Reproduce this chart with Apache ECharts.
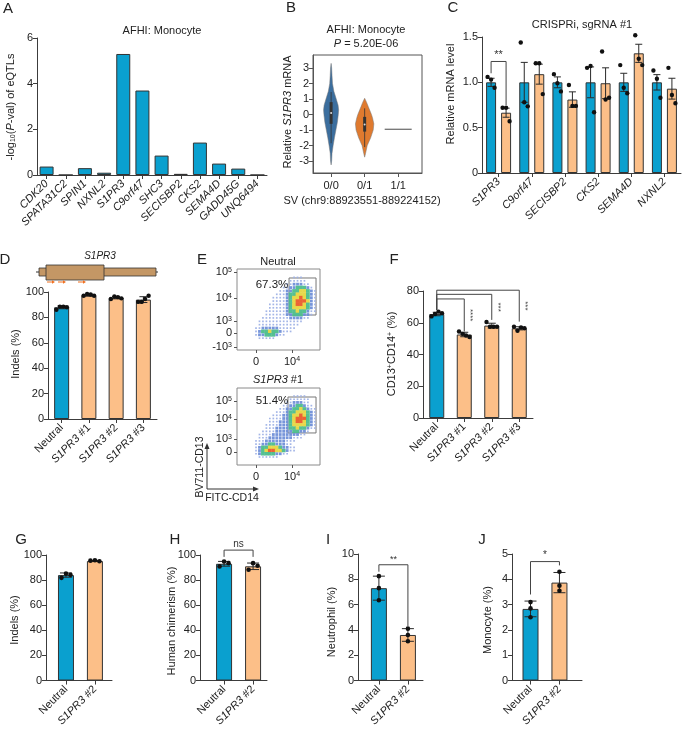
<!DOCTYPE html>
<html><head><meta charset="utf-8"><title>S1PR3 figure</title>
<script src="https://cdn.jsdelivr.net/npm/echarts@6.0.0/dist/echarts.min.js"></script>
<style>html,body{margin:0;padding:0;background:#fff;}#chart{width:685px;height:729px;}</style>
</head><body><div id="chart"></div>
<script>
// ---------------- DATA ----------------
// Panel A
const aGenes = ['CDK20','SPATA31C2','SPIN1','NXNL2','S1PR3','C9orf47','SHC3','SECISBP2','CKS2','SEMA4D','GADD45G','UNQ6494'];
const aLogP = [0.37,0,0.3,0.1,5.3,3.7,0.85,0.05,1.42,0.5,0.28,0];
// Panel B  (violin profiles: [value, relative density])
const bGenotypes = ['0/0','0/1','1/1'];
const bYTicks = [-3,-2,-1,0,1,2,3];
const bViolin00 = [[-3.25,0],[-3.0,0.06],[-2.5,0.1],[-2.0,0.22],[-1.5,0.36],[-1.0,0.52],[-0.5,0.68],[0,0.78],[0.3,0.82],[0.6,0.76],[1.0,0.56],[1.5,0.3],[2.0,0.15],[2.5,0.1],[3.0,0.06],[3.3,0]];
const bViolin01 = [[-2.75,0],[-2.5,0.1],[-2.0,0.28],[-1.5,0.65],[-1.0,0.93],[-0.6,1.0],[-0.2,0.85],[0,0.74],[0.5,0.4],[0.8,0.2],[1.05,0]];
const bBoxes = [[-1.85,-0.6,0.1,0.8,1.45],[-2.1,-1.1,-0.65,-0.15,0.4]];
const bHomAlt = -0.95;
// Panel C
const cGenes = ['S1PR3','C9orf47','SECISBP2','CKS2','SEMA4D','NXNL2'];
const cNeutralMean = [1,1,1,1,1,1];
const cNeutralSem = [0.045,0.22,0.06,0.17,0.1,0.085];
const cKOMean = [0.665,1.09,0.81,0.99,1.32,0.93];
const cKOSem = [0.05,0.11,0.085,0.17,0.1,0.115];
const cNeutralPts = [[1.06,1.03,0.94],[1.44,0.78,0.735],[1.09,0.99,0.9],[1.16,1.18,0.67],[1.19,0.94,0.88],[1.13,1.04,0.83]];
const cKOPts = [[0.72,0.72,0.57],[1.21,1.21,0.87],[0.97,0.74,0.74],[1.34,0.81,0.83],[1.52,1.26,1.19],[1.16,0.86,0.77]];
const cBrackets = [[0,0,1.23,1.1,0.75]];
const cBracketLabels = ['**'];
// Panel D
const dGroups = ['Neutral','S1PR3 #1','S1PR3 #2','S1PR3 #3'];
const dMeans = [88,97.5,95.5,94];
const dSd = [1.2,0.8,0.9,2.3];
const dPts = [[86,88.5,88.5,88],[97,98.5,98,97],[94.5,96.5,96,95],[92.2,92.2,94.5,97]];
// Panel E (flow density grids, 24x24, level 0-5)
const eXTickPos = [22.9,66.3];
const eXTickLabels = ['0','10{sup|4}'];
const eYTickLabels = ['10{sup|5}','10{sup|4}','10{sup|3}','0','-10{sup|3}'];
const eTopYTickPos = [96.3,64.2,35.8,21,3.7];
const eBotYTickPos = [83.1,59.7,33.8,16.9,3.9];
const eTopGate = [62.7,95.2,43.2,88.9];
const eBotGate = [61.4,95.2,41.6,88.3];
const eTopPct = '67.3%';
const eBotPct = '51.4%';
const eTopDensity = [
"000000000000000000000000",
"000000000000000000000000",
"000000000000000011100000",
"000000000000000111110000",
"000000000000001122211000",
"000000000000011223332100",
"000000000000112233443210",
"000000000001112334443210",
"000000000011112344543210",
"000000000011112345554210",
"000000000111112345543210",
"000000000111112344443210",
"000000001111112334332110",
"000000001111112233322100",
"000000011111111222211000",
"000000111111111111100000",
"000000111111111111000000",
"000001122222111110000000",
"000001233433211100000000",
"000001223332110000000000",
"000000111110000000000000",
"000000000000000000000000",
"000000000000000000000000",
"000000000000000000000000"];
const eBotDensity = [
"000000000000000000000000",
"000000000000000000000000",
"000000000000000011110000",
"000000000000000111111000",
"000000000000001122211000",
"000000000000011223321100",
"000000000000112233432110",
"000000000001112334443210",
"000000000011122344543210",
"000000000111122345553210",
"000000000111222345543210",
"000000001111222344443210",
"000000001112222334332110",
"000000011112222233221000",
"000000111122222222110000",
"000000111222222211100000",
"000001112222221110000000",
"000001122332221100000000",
"000001233444322110000000",
"000001234554432110000000",
"000001233332211000000000",
"000000111111000000000000",
"000000000000000000000000",
"000000000000000000000000"];
// Panel F
const fGroups = ['Neutral','S1PR3 #1','S1PR3 #2','S1PR3 #3'];
const fMeans = [65.5,52.6,58.2,56.5];
const fSd = [1.1,1.4,1.5,1.0];
const fPts = [[64,65.5,67,66],[54.5,53,52,51],[60.5,57.5,57.5,57.5],[57.5,55,57,56.5]];
const fBrackets = [[0,3,80.5,68,60.7],[0,2,77.9,68,61.8],[0,1,75,68,54.5]];
const fBracketLabels = ['***','***','****'];
// Panels G-J
const ghijGroups = ['Neutral','S1PR3 #2'];
const gMeans = [84,95.2], gSd = [1.7,0.4], gPts = [[81.8,85.2,84.2],[95.5,95.8,95]];
const hMeans = [93,91], hSd = [1.9,2.6], hPts = [[90.9,94.8,93.5],[88.3,93.5,91.4]];
const hBrackets = [[0,1,103.9,98.5,98.5]], hBracketLabels = ['ns'];
const iMeans = [7.3,3.6], iSd = [0.95,0.5], iPts = [[8.25,7.3,6.35],[4.1,3.6,3.1]];
const iBrackets = [[0,1,9.15,8.6,4.3]], iBracketLabels = ['**'];
const jMeans = [2.83,3.87], jSd = [0.31,0.4], jPts = [[3.1,2.85,2.5],[4.3,3.75,3.55]];
const jBrackets = [[0,1,4.7,3.4,4.55]], jBracketLabels = ['*'];

// ---------------- STYLE / HELPERS ----------------
const FONT = '"Liberation Sans", Arial, Helvetica, sans-serif';
const AXC = '#3c3c3c', LBL = '#222';
const BLUE = '#0aa0cf', ORANGE = '#fcbf88', EDGE = '#333';
const FLOW_COLORS = [null,'#9fb2e6','#6f8fd8','#4cbd8c','#e6d640','#ea5a2a'];
const FLOW_SIZES = [0,1.7,2.8,3.8,3.8,3.8];
const ital = {fontStyle:'italic', fontFamily:FONT, fontSize:11, color:LBL};
const norm = {fontFamily:FONT, fontSize:11, color:LBL};
const supS = {fontFamily:FONT, fontSize:7, color:LBL, verticalAlign:'top', padding:[0,0,4,0]};
function geneFmt(v){ return v.indexOf('S1PR3')===0 ? '{i|S1PR3}{n|'+v.slice(5)+'}' : '{n|'+v+'}'; }

function catX(gi, data, allItalic){
  return {type:'category', gridIndex:gi, data, boundaryGap:true,
    axisLine:{show:true, onZero:false, lineStyle:{color:AXC,width:1}},
    axisTick:{show:true, alignWithLabel:true, interval:0, length:4, lineStyle:{color:AXC}},
    axisLabel:{interval:0, rotate:45, margin:7, formatter: allItalic ? (v=>'{i|'+v+'}') : geneFmt, rich:{i:ital,n:norm}},
    splitLine:{show:false}};
}
function valX(gi, min, max, labels){
  const pos = labels.map((_,i)=>i);
  return {type:'value', gridIndex:gi, min, max,
    axisLine:{show:true, onZero:false, lineStyle:{color:AXC}},
    axisTick:{show:true, length:4, customValues:pos, lineStyle:{color:AXC}},
    axisLabel:{rotate:45, margin:7, customValues:pos, formatter:v=>geneFmt(labels[Math.round(v)]), rich:{i:ital,n:norm}},
    splitLine:{show:false}};
}
function valY(gi, min, max, interval, fmt){
  return {type:'value', gridIndex:gi, min, max, interval,
    axisLine:{show:true, onZero:false, lineStyle:{color:AXC}},
    axisTick:{show:true, length:4, lineStyle:{color:AXC}},
    axisLabel:{fontFamily:FONT, fontSize:11, color:LBL, margin:4, formatter:fmt},
    splitLine:{show:false}};
}
function nearestLabel(pos, labels, v){
  let bi=0; pos.forEach((p,i)=>{ if (Math.abs(p-v)<Math.abs(pos[bi]-v)) bi=i; }); return labels[bi];
}
function flowX(gi){
  return {type:'value', gridIndex:gi, min:0, max:100,
    axisLine:{show:false}, splitLine:{show:false},
    axisTick:{show:true, length:3, customValues:eXTickPos, lineStyle:{color:'#555'}},
    axisLabel:{customValues:eXTickPos, margin:6, fontFamily:FONT, fontSize:11, color:LBL,
      formatter:v=>nearestLabel(eXTickPos,eXTickLabels,v), rich:{sup:supS}}};
}
function flowY(gi, pos){
  return {type:'value', gridIndex:gi, min:0, max:100,
    axisLine:{show:false}, splitLine:{show:false},
    axisTick:{show:true, length:3, customValues:pos, lineStyle:{color:'#555'}},
    axisLabel:{customValues:pos, margin:5, fontFamily:FONT, fontSize:11, color:LBL,
      formatter:v=>nearestLabel(pos,eYTickLabels,v), rich:{sup:supS}}};
}
function barSeries(gi, values, colors, width, valueAxisX){
  return {type:'bar', xAxisIndex:gi, yAxisIndex:gi, barWidth:width, silent:true,
    data: values.map((v,i)=>({value: valueAxisX ? [i,v] : v, itemStyle:{color:colors[i]}})),
    itemStyle:{borderColor:EDGE, borderWidth:1}};
}
function errSeries(gi, means, errs, cap, off){
  return {type:'custom', xAxisIndex:gi, yAxisIndex:gi, clip:false, silent:true, z:4,
    data: means.map((m,i)=>[i, m-errs[i], m+errs[i]]),
    renderItem(params, api){
      const lo = api.coord([api.value(0), api.value(1)]);
      const hi = api.coord([api.value(0), api.value(2)]);
      const x = lo[0] + (off||0);
      const st = {stroke:'#2a2a2a', lineWidth:1};
      return {type:'group', children:[
        {type:'line', shape:{x1:x,y1:lo[1],x2:x,y2:hi[1]}, style:st},
        {type:'line', shape:{x1:x-cap,y1:lo[1],x2:x+cap,y2:lo[1]}, style:st},
        {type:'line', shape:{x1:x-cap,y1:hi[1],x2:x+cap,y2:hi[1]}, style:st}]};
    }};
}
function dotSeries(gi, pts, spread, off, r){
  const data=[];
  pts.forEach((arr,ci)=>arr.forEach((v,j)=>data.push([ci, v, j, arr.length])));
  return {type:'custom', xAxisIndex:gi, yAxisIndex:gi, clip:false, silent:true, z:5, data,
    renderItem(params, api){
      const p = api.coord([api.value(0), api.value(1)]);
      const j = api.value(2), n = api.value(3);
      return {type:'circle', shape:{cx:p[0]+(off||0)+(j-(n-1)/2)*spread, cy:p[1], r:r||2.3}, style:{fill:'#111'}};
    }};
}
function bracketSeries(gi, list, labels, o){
  o = o||{};
  return {type:'custom', xAxisIndex:gi, yAxisIndex:gi, clip:false, silent:true, z:6,
    data: list.map(b=>[b[0], b[2]]),
    renderItem(params, api){
      const b = list[params.dataIndex];
      const t1 = api.coord([b[0], b[2]]), t2 = api.coord([b[1], b[2]]);
      const e1 = api.coord([b[0], b[3]]), e2 = api.coord([b[1], b[4]]);
      const x1 = t1[0]+(o.off1||0), x2 = t2[0]+(o.off2||0);
      const kids = [{type:'polyline', shape:{points:[[x1,e1[1]],[x1,t1[1]],[x2,t1[1]],[x2,e2[1]]]}, style:{stroke:'#444', lineWidth:1, fill:'none'}}];
      const lab = labels[params.dataIndex];
      if (o.vertical) {
        kids.push({type:'text', x:x2+6, y:(t1[1]+e2[1])/2, rotation:-Math.PI/2,
          style:{text:lab, fill:'#444', fontFamily:FONT, fontSize:o.size||8, align:'center', verticalAlign:'middle'}});
      } else {
        kids.push({type:'text', x:(x1+x2)/2, y:t1[1]-1,
          style:{text:lab, fill:'#333', fontFamily:FONT, fontSize:o.size||10, align:'center', verticalAlign:'bottom'}});
      }
      return {type:'group', children:kids};
    }};
}
function flowData(rows){
  const out=[];
  rows.forEach((row,r)=>{
    const s = row.padEnd(24,'0');
    for (let c=0;c<24;c++){ const lv = +s[c]; if (lv>0) out.push([(c+0.5)*100/24, 100-(r+0.5)*100/rows.length, lv]); }
  });
  return out;
}
function flowSeries(gi, rows, gate, cellH){
  return {type:'scatter', xAxisIndex:gi, yAxisIndex:gi, silent:true, symbol:'rect',
    symbolSize: v => v[2] >= 3 ? [3.8, cellH] : FLOW_SIZES[v[2]],
    data: flowData(rows),
    itemStyle:{color:p=>FLOW_COLORS[p.value[2]], opacity:0.95},
    markArea:{silent:true, itemStyle:{color:'rgba(0,0,0,0)', borderColor:'#777', borderWidth:1},
      data:[[{coord:[gate[0],gate[2]]},{coord:[gate[1],gate[3]]}]]}};
}
function T(x, y, text, o){
  o = o||{};
  return {type:'text', x, y, rotation:o.rot||0, silent:true, z:100,
    style:{text, fill:o.color||LBL, fontFamily:FONT, fontSize:o.size||11, fontStyle:o.italic?'italic':'normal',
      align:o.align||'center', verticalAlign:o.va||'middle', rich:o.rich}};
}

// ---------------- VIOLIN (B) ----------------
const bProfiles = [bViolin00, bViolin01];
const bColors = ['#3b6e9e','#df7a2f'];
const VHALF = 9.2;
const violinSeries = {type:'custom', xAxisIndex:1, yAxisIndex:1, clip:false, silent:true, z:3,
  data: bBoxes.map((b,i)=>[i, b[2]]),
  renderItem(params, api){
    const k = params.dataIndex, prof = bProfiles[k], bx = bBoxes[k];
    const left=[], right=[];
    prof.forEach(([v,d])=>{ const p = api.coord([k,v]); left.push([p[0]-d*VHALF, p[1]]); right.push([p[0]+d*VHALF, p[1]]); });
    const poly = left.concat(right.reverse());
    const c = api.coord([k,0])[0];
    const w0 = api.coord([k,bx[0]])[1], q1 = api.coord([k,bx[1]])[1], md = api.coord([k,bx[2]])[1], q3 = api.coord([k,bx[3]])[1], w1 = api.coord([k,bx[4]])[1];
    return {type:'group', children:[
      {type:'polygon', shape:{points:poly}, style:{fill:bColors[k], stroke:'#777', lineWidth:0.5}},
      {type:'line', shape:{x1:c,y1:w0,x2:c,y2:w1}, style:{stroke:'#333', lineWidth:0.8}},
      {type:'rect', shape:{x:c-1.5, y:q3, width:3, height:q1-q3}, style:{fill:'#333'}},
      {type:'circle', shape:{cx:c, cy:md, r:1}, style:{fill:'#ddd'}}]};
  }};
const homAltSeries = {type:'custom', xAxisIndex:1, yAxisIndex:1, clip:false, silent:true, z:3,
  data:[[2, bHomAlt]],
  renderItem(params, api){
    const p = api.coord([api.value(0), api.value(1)]);
    return {type:'line', shape:{x1:p[0]-13.5,y1:p[1],x2:p[0]+13.5,y2:p[1]}, style:{stroke:'#666', lineWidth:1.2}};
  }};

// ---------------- OPTION ----------------
const chart = echarts.init(document.getElementById('chart'), null, {width:685, height:729});
const fmt1 = v => v===0 ? '0' : v.toFixed(1);
const flowGrid = {show:true, borderColor:'#8a8a8a', borderWidth:1, backgroundColor:'rgba(0,0,0,0)'};

const option = {
  animation:false,
  textStyle:{fontFamily:FONT},
  grid:[
    {left:37, top:38, width:230, height:137},
    Object.assign({left:313, top:55, width:109, height:118}, {show:true, borderColor:'#555', borderWidth:1, backgroundColor:'rgba(0,0,0,0)'}),
    {left:482, top:37, width:199, height:136},
    {left:48, top:292, width:109, height:127},
    Object.assign({left:237, top:269, width:83, height:81}, flowGrid),
    Object.assign({left:237, top:388, width:83, height:77}, flowGrid),
    {left:423, top:291, width:110, height:127},
    {left:46, top:555, width:66, height:128},
    {left:200, top:555, width:67, height:128},
    {left:358, top:554, width:65, height:129},
    {left:512, top:554, width:70, height:129}
  ],
  xAxis:[
    catX(0, aGenes, true),
    {type:'value', gridIndex:1, min:-0.54, max:2.71, splitLine:{show:false},
      axisLine:{show:true, onZero:false, lineStyle:{color:'#555'}},
      axisTick:{show:true, length:4, customValues:[0,1,2], lineStyle:{color:'#555'}},
      axisLabel:{customValues:[0,1,2], margin:7, fontFamily:FONT, fontSize:11, color:LBL, formatter:v=>bGenotypes[Math.round(v)]}},
    catX(2, cGenes, true),
    catX(3, dGroups, false),
    flowX(4), flowX(5),
    catX(6, fGroups, false),
    valX(7, -0.69, 1.59, ghijGroups),
    valX(8, -0.83, 1.48, ghijGroups),
    valX(9, -0.72, 1.52, ghijGroups),
    valX(10, -0.64, 1.78, ghijGroups)
  ],
  yAxis:[
    valY(0, 0, 6, 2),
    {type:'value', gridIndex:1, min:-3.77, max:3.84, splitLine:{show:false},
      axisLine:{show:true, onZero:false, lineStyle:{color:'#555'}},
      axisTick:{show:true, length:4, customValues:bYTicks, lineStyle:{color:'#555'}},
      axisLabel:{customValues:bYTicks, margin:4, fontFamily:FONT, fontSize:11, color:LBL}},
    valY(2, 0, 1.5, 0.5, fmt1),
    valY(3, 0, 100, 20),
    flowY(4, eTopYTickPos), flowY(5, eBotYTickPos),
    valY(6, 0, 80, 20),
    valY(7, 0, 100, 20),
    valY(8, 0, 100, 20),
    valY(9, 0, 10, 2),
    valY(10, 0, 5, 1)
  ],
  series:[
    barSeries(0, aLogP, aLogP.map(()=>BLUE), 14),
    violinSeries, homAltSeries,
    Object.assign(barSeries(2, cNeutralMean, cNeutralMean.map(()=>BLUE), 10), {barGap:'50%'}),
    Object.assign(barSeries(2, cKOMean, cKOMean.map(()=>ORANGE), 10), {barGap:'50%'}),
    errSeries(2, cNeutralMean, cNeutralSem, 3.5, -7.5),
    errSeries(2, cKOMean, cKOSem, 3.5, 7.5),
    dotSeries(2, cNeutralPts, 3.5, -7.5, 2.2),
    dotSeries(2, cKOPts, 3.5, 7.5, 2.2),
    bracketSeries(2, cBrackets, cBracketLabels, {off1:-7.5, off2:7.5, size:11}),
    barSeries(3, dMeans, [BLUE,ORANGE,ORANGE,ORANGE], 15),
    errSeries(3, dMeans, dSd, 4),
    dotSeries(3, dPts, 3.5, 0, 2.2),
    flowSeries(4, eTopDensity, eTopGate, 3.7),
    flowSeries(5, eBotDensity, eBotGate, 3.5),
    barSeries(6, fMeans, [BLUE,ORANGE,ORANGE,ORANGE], 15),
    errSeries(6, fMeans, fSd, 4),
    dotSeries(6, fPts, 3.5, 0, 2.2),
    bracketSeries(6, fBrackets, fBracketLabels, {vertical:true, size:8}),
    barSeries(7, gMeans, [BLUE,ORANGE], 16, true),
    errSeries(7, gMeans, gSd, 6),
    dotSeries(7, gPts, 4.5, 0, 2.3),
    barSeries(8, hMeans, [BLUE,ORANGE], 16, true),
    errSeries(8, hMeans, hSd, 6),
    dotSeries(8, hPts, 4.5, 0, 2.3),
    bracketSeries(8, hBrackets, hBracketLabels, {size:10}),
    barSeries(9, iMeans, [BLUE,ORANGE], 16, true),
    errSeries(9, iMeans, iSd, 6),
    dotSeries(9, iPts, 0, 0, 2.3),
    bracketSeries(9, iBrackets, iBracketLabels, {size:9}),
    barSeries(10, jMeans, [BLUE,ORANGE], 16, true),
    errSeries(10, jMeans, jSd, 6),
    dotSeries(10, jPts, 0, 0, 2.3),
    bracketSeries(10, jBrackets, jBracketLabels, {size:10})
  ],
  graphic:{elements:[
    // panel letters
    T(8,9,'A',{size:15}), T(291,8,'B',{size:15}), T(453,8,'C',{size:15}),
    T(5,260,'D',{size:15}), T(202,260,'E',{size:15}), T(394,260,'F',{size:15}),
    T(21,540,'G',{size:15}), T(175,540,'H',{size:15}), T(328,540,'I',{size:15}), T(482,540,'J',{size:15}),
    // A
    T(162,31,'AFHI: Monocyte'),
    T(11,107,'-log{sub|10}({i|P}-val) of eQTLs',{rot:Math.PI/2, rich:{sub:{fontFamily:FONT,fontSize:7,color:LBL,verticalAlign:'bottom',padding:[4,0,0,0]}, i:ital}}),
    // B
    T(366,30,'AFHI: Monocyte'),
    T(366,44,'{i|P} = 5.20E-06',{rich:{i:ital}}),
    T(288,112,'Relative {i|S1PR3} mRNA',{rot:Math.PI/2, rich:{i:ital}}),
    T(362,201,'SV (chr9:88923551-889224152)'),
    // C
    T(582,25,'CRISPRi, sgRNA #1'),
    T(451,94,'Relative mRNA level',{rot:Math.PI/2}),
    // D
    T(100,256,'S1PR3',{italic:true, size:10}),
    {type:'line', silent:true, shape:{x1:36,y1:272,x2:158,y2:272}, style:{stroke:'#333', lineWidth:1}},
    {type:'rect', silent:true, shape:{x:39,y:268,width:117,height:8}, style:{fill:'#c49765', stroke:'#333', lineWidth:0.8}},
    {type:'rect', silent:true, shape:{x:46,y:265,width:58,height:15}, style:{fill:'#c49765', stroke:'#333', lineWidth:0.8}},
    {type:'line', silent:true, shape:{x1:47,y1:282,x2:52,y2:282}, style:{stroke:'#f07020', lineWidth:1}},
    {type:'polygon', silent:true, shape:{points:[[52,280.3],[55,282],[52,283.7]]}, style:{fill:'#f07020'}},
    {type:'line', silent:true, shape:{x1:58,y1:282,x2:63,y2:282}, style:{stroke:'#f07020', lineWidth:1}},
    {type:'polygon', silent:true, shape:{points:[[63,280.3],[66,282],[63,283.7]]}, style:{fill:'#f07020'}},
    {type:'line', silent:true, shape:{x1:78,y1:282,x2:83,y2:282}, style:{stroke:'#f07020', lineWidth:1}},
    {type:'polygon', silent:true, shape:{points:[[83,280.3],[86,282],[83,283.7]]}, style:{fill:'#f07020'}},
    T(16,354,'Indels (%)',{rot:Math.PI/2}),
    // E
    T(278,262,'Neutral'),
    T(278,380,'{i|S1PR3} #1',{rich:{i:ital}}),
    T(272,285,eTopPct,{size:11.5}),
    T(272,401,eBotPct,{size:11.5}),
    T(200,467,'BV711-CD13',{rot:Math.PI/2, size:10.5}),
    T(232,498,'FITC-CD14',{size:10.5}),
    {type:'polyline', silent:true, shape:{points:[[207,447],[207,489],[255,489]]}, style:{stroke:'#333', lineWidth:1, fill:'none'}},
    {type:'polygon', silent:true, shape:{points:[[204.5,449],[207,443],[209.5,449]]}, style:{fill:'#333'}},
    {type:'polygon', silent:true, shape:{points:[[253,486.5],[259,489],[253,491.5]]}, style:{fill:'#333'}},
    // F
    T(392,354,'CD13{sup|+}CD14{sup|+} (%)',{rot:Math.PI/2, rich:{sup:supS}}),
    // G-J
    T(15,620,'Indels (%)',{rot:Math.PI/2}),
    T(172,621,'Human chimerism (%)',{rot:Math.PI/2}),
    T(332,622,'Neutrophil (%)',{rot:Math.PI/2}),
    T(488,620,'Monocyte (%)',{rot:Math.PI/2})
  ]}
};
chart.setOption(option);
</script></body></html>
